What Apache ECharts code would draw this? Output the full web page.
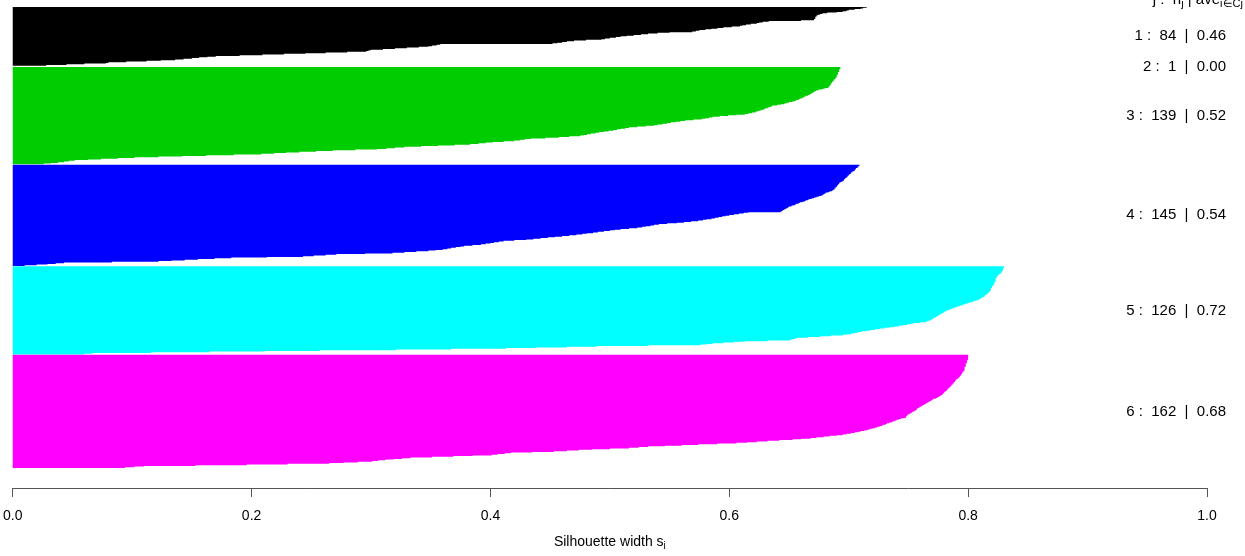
<!DOCTYPE html>
<html>
<head>
<meta charset="utf-8">
<script src="https://cdn.jsdelivr.net/npm/echarts@6/dist/echarts.min.js"></script>
<style>html,body{margin:0;padding:0;background:#fff;}#c{width:1245px;height:556px;}</style>
</head>
<body>
<div id="c"></div>
<script>
// ---- data (silhouette widths, sorted within each cluster) ----
const clusterIds = ['1', '2', '3', '4', '5', '6'];
const clusterColors = ['#000000', '#ff0000', '#00cd00', '#0000ff', '#00ffff', '#ff00ff'];
const clusterAvg = [0.46, 0.00, 0.52, 0.54, 0.72, 0.68];
const xTicks = ['0.0', '0.2', '0.4', '0.6', '0.8', '1.0'];

const sil1 = [.715,.712,.71,.705,.70,.698,.695,.69,.682,.678,.676,.674,.673,.673,.672,.672,.672,.671,.671,.66,
.633,.628,.625,.623,.618,.614,.611,.609,.602,.595,.59,.585,.58,.575,.572,.569,.55,.54,.532,.526,
.52,.514,.509,.505,.50,.496,.493,.48,.47,.464,.46,.456,.452,.358,.355,.351,.348,.34,.33,.32,
.31,.30,.298,.296,.28,.262,.245,.227,.209,.19,.17,.163,.156,.15,.143,.136,.124,.112,.095,.08,
.078,.06,.045,.028];
const sil2 = [0.00];
const sil3 = [.693,.693,.693,.692,.692,.692,.692,.691,.691,.691,.691,.690,.690,.690,.690,.689,.689,.688,.688,
.687,.687,.686,.686,.685,.685,.685,.684,.684,.683,.683,.68,.678,.675,.673,.672,.671,.67,.669,
.668,.667,.666,.664,.663,.662,.661,.659,.658,.656,.655,.653,.65,.648,.646,.643,.64,.636,.635,.633,.632,.63,
.629,.627,.625,.623,.622,.619,.616,.613,.606,.599,.592,.586,.583,.58,.577,.57,.563,.559,.555,.551,.548,
.544,.54,.537,.53,.523,.516,.513,.509,.506,.503,.499,.495,.491,.488,.484,.481,.478,.475,.466,.457,.446,
.434,.429,.425,.42,.411,.402,.396,.39,.383,.37,.356,.342,.328,.32,.313,.305,.287,.268,.254,.24,.229,.219,
.208,.185,.162,.142,.122,.102,.088,.074,.063,.052,.047,.043,.038,.032,.026];
const sil4 = [.709,.709,.708,.708,.707,.706,.706,.705,.705,.704,.703,.702,.702,.701,.70,.70,.699,.699,
.698,.697,.697,.696,.696,.695,.694,.693,.692,.692,.691,.691,.690,.690,.689,.689,.688,.688,.687,
.686,.684,.683,.681,.680,.679,.678,.677,.675,.673,.671,.669,.667,.666,.664,.663,.661,.659,.658,
.656,.655,.653,.652,.650,.649,.648,.647,.646,.645,.644,.643,.616,.612,.608,.604,.60,.597,.594,.591,
.588,.585,.581,.578,.574,.568,.562,.556,.548,.541,.537,.534,.530,.527,.523,.516,.509,.504,.50,
.495,.49,.486,.481,.477,.472,.466,.46,.454,.448,.442,.436,.43,.42,.411,.407,.403,.40,.396,.392,.385,
.378,.375,.371,.367,.364,.36,.354,.348,.338,.328,.318,.295,.271,.262,.252,.243,.213,.183,.169,
.155,.144,.133,.122,.083,.043,.036,.029,.02,.01];
const sil5 = [.830,.830,.830,.829,.829,.829,.829,.828,.828,.828,.827,.826,.825,.825,.824,.824,.824,.823,.823,
.823,.823,.823,.822,.822,.822,.822,.821,.821,.820,.820,.820,.819,.819,.819,.819,.818,.818,.817,
.817,.816,.815,.814,.814,.813,.812,.811,.810,.809,.808,.806,.804,.802,.800,.798,.797,
.795,.793,.791,.790,.788,.786,.785,.784,.782,.781,.780,.779,.778,.777,.776,.775,.774,.773,.772,
.771,.770,.769,.768,.766,.765,.76,.754,.752,.749,.745,.742,.738,.734,.730,.726,.722,.718,.715,
.711,.708,.705,.702,.698,.695,.685,.676,.666,.657,.655,.653,.651,.632,.613,.604,.595,.586,.581,
.576,.532,.489,.464,.438,.413,.367,.321,.257,.211,.165,.116,.067,.06];
const sil6 = [.800,.800,.800,.800,.800,.800,.800,.800,.799,.799,.799,.799,.798,
.798,.798,.798,.798,.797,.797,.797,.797,.797,.797,.796,.796,.795,.795,.795,
.794,.794,.793,.793,.792,.792,.791,.790,.790,.789,.789,.788,.788,.787,
.787,.786,.786,.785,.785,.784,.783,.783,.782,.782,.781,.780,.780,.779,
.779,.778,.777,.776,.775,.774,.773,.771,.770,.769,.768,.767,.766,.765,.764,
.763,.762,.761,.760,.759,.758,.757,.757,.756,.755,.754,.753,.752,.751,
.750,.749,.749,.748,.748,.747,.744,.742,.740,.739,.737,.736,.734,.732,.731,.729,.728,
.726,.724,.722,.720,.718,.716,.713,.710,.708,.705,.702,.698,.695,.690,.684,.679,.673,
.668,.660,.653,.642,.632,.623,.615,.606,.590,.574,.560,.546,.532,.524,.516,.500,
.485,.474,.464,.453,.435,.417,.412,.406,.401,.385,.369,.351,.333,.326,.319,.312,.306,
.301,.289,.277,.265,.230,.196,.153,.110,.102,.094];

const clusterSil = [sil1, sil2, sil3, sil4, sil5, sil6];

// ---- derived layout in data units (R barplot: width 1, 0.5 space between clusters) ----
const starts = [];
let pos = 0;
clusterSil.forEach((arr, i) => {
  if (i > 0) pos += 0.5;
  starts.push(pos);
  pos += arr.length;
});
const totalUnits = pos;

const chart = echarts.init(document.getElementById('c'), null, {renderer: 'canvas'});
const FONT = '"Liberation Sans", Arial, sans-serif';

chart.setOption({
  animation: false,
  backgroundColor: '#ffffff',
  grid: {left: 10, right: 38, top: 7, height: 461, containLabel: false},
  xAxis: {
    type: 'value', min: 0, max: 1, interval: 0.2,
    position: 'bottom',
    offset: 20,
    splitLine: {show: false},
    axisLine: {show: true, onZero: false, lineStyle: {color: '#555', width: 1}},
    axisTick: {show: true, length: 9, lineStyle: {color: '#555', width: 1}},
    axisLabel: {
      margin: 21, color: '#000', fontSize: 14, fontFamily: FONT,
      formatter: v => xTicks[Math.round(v / 0.2)]
    },
    name: '{n|Silhouette width s}{s|i}',
    nameLocation: 'middle',
    nameGap: 45,
    nameTextStyle: {
      fontFamily: FONT,
      rich: {
        n: {fontSize: 14, color: '#000', fontFamily: FONT, lineHeight: 18, verticalAlign: 'middle'},
        s: {fontSize: 10, color: '#000', fontFamily: FONT, lineHeight: 18, verticalAlign: 'bottom', padding: [8, 0, 0, 0]}
      }
    }
  },
  yAxis: {type: 'value', min: 0, max: totalUnits, inverse: true, show: false, splitLine: {show: false}},
  graphic: [{
    type: 'text', right: -12, top: -10, z: 10,
    style: {
      text: '{a|j :  n}{s|j}{a| | ave}{s|i∈Cj}{a| s}{s|i}',
      fill: '#000',
      rich: {
        a: {fontSize: 15, fontFamily: FONT, fill: '#000', lineHeight: 18, verticalAlign: 'middle'},
        s: {fontSize: 11, fontFamily: FONT, fill: '#000', lineHeight: 18, verticalAlign: 'bottom', padding: [8, 0, 0, 0]}
      }
    }
  }],
  series: [{
    type: 'custom',
    clip: false,
    data: clusterIds.map((id, i) => [0, starts[i], i]),
    encode: {x: 0, y: 1},
    renderItem: function (params, api) {
      const ci = api.value(2);
      const vals = clusterSil[ci];
      const st = starts[ci];
      const pts = [api.coord([0, st])];
      for (let j = 0; j < vals.length; j++) {
        pts.push(api.coord([vals[j], st + j]));
        pts.push(api.coord([vals[j], st + j + 1]));
      }
      pts.push(api.coord([0, st + vals.length]));
      const mid = api.coord([0, st + vals.length / 2]);
      const rightX = api.coord([1, 0])[0] + 19;
      const label = clusterIds[ci] + ' :  ' + vals.length + '  |  ' + clusterAvg[ci].toFixed(2);
      return {
        type: 'group',
        children: [
          {type: 'polygon', shape: {points: pts}, style: {fill: clusterColors[ci], stroke: null}},
          {type: 'text', style: {text: label, x: rightX, y: mid[1], align: 'right', verticalAlign: 'middle',
            fill: '#000', font: '15px ' + FONT}}
        ]
      };
    }
  }]
});
</script>
</body>
</html>
